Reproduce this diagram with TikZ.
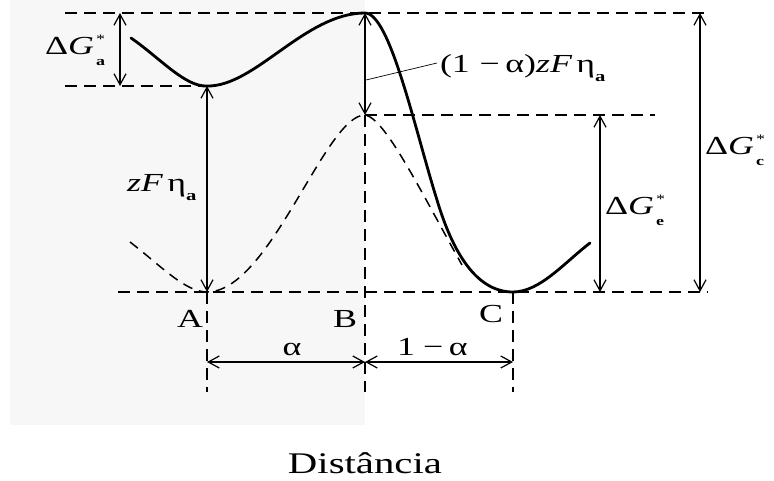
\documentclass[tikz,border=0pt]{standalone}
\usepackage{fontspec}
\setmainfont{Liberation Serif}
\usetikzlibrary{arrows.meta}
\newcommand\SubSup[2]{\kern1.5pt\rlap{\raisebox{0.46em}{\fontsize{13}{13}\selectfont #1}}\raisebox{-0.40em}{\fontsize{13}{13}\selectfont\bfseries #2}}
\newcommand\SubOnly[1]{\raisebox{-0.32em}{\fontsize{15}{15}\selectfont\bfseries #1}}
\newcommand\lbl[1]{\scalebox{1.38}[1]{\fontsize{26}{30}\selectfont #1}}
\begin{document}
\begin{tikzpicture}[x=1pt,y=-1pt,
  guide/.style={line width=1.4pt,dash pattern=on 12pt off 7pt},
  dim/.style={line width=1.2pt,{Straight Barb[length=11pt,width=12pt,line width=1.2pt]}-{Straight Barb[length=11pt,width=12pt,line width=1.2pt]}},
  curve/.style={line width=2.8pt,line cap=round,line join=round},
  dcurve/.style={line width=1.5pt,dash pattern=on 10pt off 7pt},
  txt/.style={inner sep=0pt,outer sep=0pt}]
\useasboundingbox (0,0) rectangle (774,481);
\fill[black!3] (10,0) rectangle (365,425);
% named points
\coordinate (L1) at (65,13);   \coordinate (R1) at (708,13);
\coordinate (L2) at (65,86);   \coordinate (A0) at (207,86);
\coordinate (B0) at (365,115); \coordinate (R3) at (655,115);
\coordinate (L4) at (118,292); \coordinate (R4) at (708,292);
\coordinate (Abot) at (207,292); \coordinate (Bbot) at (365,292); \coordinate (Cbot) at (513,292);
\coordinate (Aend) at (207,392); \coordinate (Bend) at (365,392); \coordinate (Cend) at (513,392);
\coordinate (Btop) at (365,13);
\coordinate (GaT) at (120,13); \coordinate (GaB) at (120,86);
\coordinate (GeT) at (600,115); \coordinate (GeB) at (600,292);
\coordinate (GcT) at (700,13); \coordinate (GcB) at (700,292);
\coordinate (Ad) at (207,362); \coordinate (Bd) at (365,362); \coordinate (Cd) at (513,362);
\coordinate (Lead1) at (366,80); \coordinate (Lead2) at (437,63);
% guide lines
\draw[guide] (L1) -- (R1);
\draw[guide] (L2) -- (A0);
\draw[guide] (B0) -- (R3);
\draw[guide] (L4) -- (R4);
\draw[guide] (Abot) -- (Aend);
\draw[guide] (B0) -- (Bend);
\draw[guide] (Cbot) -- (Cend);
% dashed curve
\draw[dcurve] (130,242) .. controls (160,265) and (185,292) .. (Abot)
  .. controls (270,292) and (325,115) .. (B0)
  .. controls (385,118) and (420,190) .. (462,265);
% solid curve
\draw[curve] (131,38) .. controls (160,58) and (185,87) .. (A0)
  .. controls (255,87) and (305,13) .. (Btop)
  .. controls (390,13) and (415,130) .. (437,200)
  .. controls (455,260) and (480,292) .. (Cbot)
  .. controls (540,292) and (565,262) .. (590,243);
% dimension arrows
\draw[dim] (GaT) -- (GaB);
\draw[dim] (A0) -- (Abot);
\draw[dim] (Btop) -- (B0);
\draw[dim] (GeT) -- (GeB);
\draw[dim] (GcT) -- (GcB);
\draw[dim] (Ad) -- (Bd);
\draw[dim] (Bd) -- (Cd);
\draw[line width=0.7pt] (Lead1) -- (Lead2);
% labels
\node[txt,anchor=base west] (tGa) at (45,55) {\lbl{Δ\textit{G}\SubSup{*}{a}}};
\node[txt,anchor=base west] (tzF) at (127,192) {\lbl{\textit{zF}\kern3pt η\SubOnly{a}}};
\node[txt,anchor=base west] (t1a) at (440,73) {\lbl{(1\kern7pt−\kern4pt α)\textit{zF}\kern3pt η\SubOnly{a}}};
\node[txt,anchor=base west] (tGc) at (705,155) {\lbl{Δ\textit{G}\SubSup{*}{c}}};
\node[txt,anchor=base west] (tGe) at (605,215) {\lbl{Δ\textit{G}\SubSup{*}{e}}};
\node[txt,anchor=base east] (tA) at (203,327) {\lbl{A}};
\node[txt,anchor=base east] (tB) at (357,327) {\lbl{B}};
\node[txt,anchor=base east] (tC) at (503,322) {\lbl{C}};
\node[txt,anchor=base] (tal) at (292,355) {\lbl{α}};
\node[txt,anchor=base west] (t1ma) at (397,355) {\lbl{1\kern6pt−\kern4pt α}};
\node[txt,anchor=base] (tD) at (365,473) {\scalebox{1.36}[1]{\fontsize{30}{30}\selectfont Distância}};
\end{tikzpicture}
\end{document}
